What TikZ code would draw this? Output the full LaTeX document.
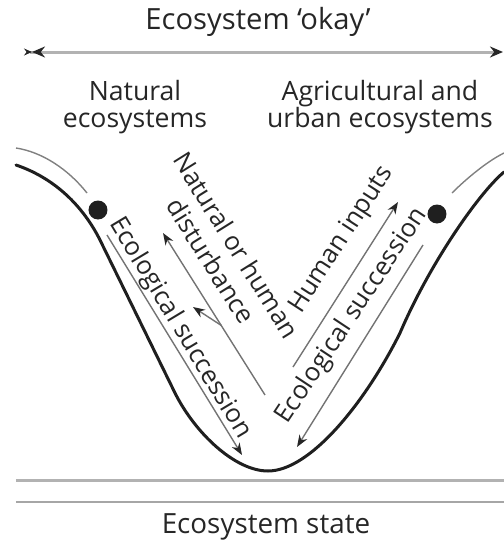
\documentclass[tikz,border=0pt]{standalone}
\usepackage{fontspec}
\setmainfont{Open Sans}
\usetikzlibrary{arrows.meta,calc}

\begin{document}
\begin{tikzpicture}[
  x=0.5pt, y=0.5pt,
  font=\fontsize{13.3}{13.8}\selectfont,
  lbl/.style={inner sep=0pt, align=center, text=black!85},
  slant/.style={lbl, rotate=#1, font=\fontsize{12.8}{15}\selectfont},
  well/.style={line width=1.5pt, draw=black!88, line cap=round},
  rim/.style={line width=0.7pt, draw=black!50},
  flow/.style={line width=0.7pt, draw=black!55,
               -{Stealth[length=6pt,width=4.5pt,color=black!85]}},
  axis/.style={line width=1.5pt, draw=black!30},
  ball/.style={circle, fill=black!88, inner sep=0pt, minimum size=9.5pt}
]
\useasboundingbox (0,0) rectangle (504,543);

% top scale
\node[lbl, font=\fontsize{14.6}{16}\selectfont] (okay) at (258,521) {Ecosystem ‘okay’};
\coordinate (okL) at (17,491);
\coordinate (okR) at (503,491);
\draw[axis, {Stealth[reversed,length=4pt,width=3.5pt,sep=3.5pt,color=black!85]Stealth[length=6.5pt,width=5.5pt,color=black!85]}-{Stealth[length=6.5pt,width=5.5pt,color=black!85]}] (okL) -- (okR);

\node[lbl] (nat) at (135,436) {Natural\\ecosystems};
\node[lbl] (agr) at (380,436) {Agricultural and\\urban ecosystems};

% the well
\draw[well] (16,378) .. controls (60,363) and (86,331) .. (100,303)
  -- (175,150) .. controls (195,110) and (235,72) .. (268,72)
  .. controls (310,72) and (365,140) .. (400,210)
  .. controls (430,280) and (479,350) .. (504,371);
\draw[rim] (16,395) .. controls (42,391) and (68,374) .. (87,350);
\draw[rim] (452,350) .. controls (462,360) and (484,380) .. (504,390);

\node[ball] (natS) at (98,333) {};
\node[ball] (agrS) at (437,329) {};

% arrows along the well
\coordinate (sLa) at (107,308);
\coordinate (sLb) at (242,88);
\coordinate (dA)  at (265,148);
\coordinate (dB)  at (163,310);
\coordinate (dC)  at (193,236);
\coordinate (hA)  at (293,176);
\coordinate (hB)  at (398,341);
\coordinate (sRa) at (423,298);
\coordinate (sRb) at (297,96);

\draw[flow] (sLa) -- (sLb);
\draw[flow] (dA) -- (dB);
\draw[flow] ($(dA)!0.43!(dB)$) -- (dC);
\draw[flow] (hA) -- (hB);
\draw[flow] (sRa) -- (sRb);

\node[slant=-59] (sLt) at (180,215) {Ecological succession};
\node[slant=-58] (dt)  at (224,290) {Natural or human\\disturbance};
\node[slant=57]  (ht)  at (342,303) {Human inputs};
\node[slant=56.5] (sRt) at (352,227) {Ecological succession};

% state axis
\draw[axis] (16,63) -- (504,63);
\draw[axis, line width=1.2pt, draw=black!35] (16,41) -- (504,41);
\node[lbl, font=\fontsize{13.9}{15}\selectfont] (state) at (266,16) {Ecosystem state};
\end{tikzpicture}
\end{document}
